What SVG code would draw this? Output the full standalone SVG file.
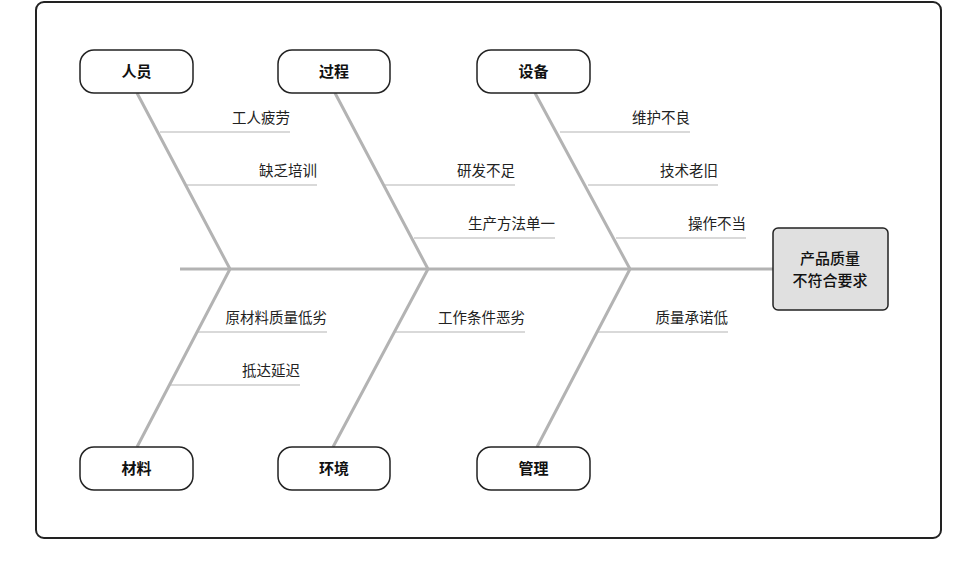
<svg xmlns="http://www.w3.org/2000/svg" width="970" height="566" viewBox="0 0 970 566">
<style>
.cat{fill:#fff;stroke:#222;stroke-width:1.5}
.ct{font-family:"Noto Sans CJK SC",sans-serif;font-size:15px;font-weight:bold;fill:#111;text-anchor:middle}
.ht{font-family:"Noto Sans CJK SC",sans-serif;font-size:15px;font-weight:500;fill:#111;text-anchor:middle}
.bone{stroke:#b3b3b3;stroke-width:3;fill:none}
.sub{stroke:#b3b3b3;stroke-width:1;fill:none}
.st{font-family:"Noto Sans CJK SC",sans-serif;font-size:14.5px;fill:#222;text-anchor:end}
</style>
<rect x="36" y="2" width="905" height="536" rx="8" fill="#fff" stroke="#222" stroke-width="2"/>
<g id="connectors">
<line class="bone" x1="180" y1="269" x2="773" y2="269"/>
<polyline class="bone" points="137,93 230,269 137,447"/>
<polyline class="bone" points="335,93 428,269 333,447"/>
<polyline class="bone" points="535,93 630,269 537,447"/>
<line class="sub" x1="160" y1="132" x2="290" y2="132"/>
<line class="sub" x1="187" y1="185" x2="317" y2="185"/>
<line class="sub" x1="385" y1="185" x2="515" y2="185"/>
<line class="sub" x1="414" y1="238" x2="555" y2="238"/>
<line class="sub" x1="560" y1="132" x2="690" y2="132"/>
<line class="sub" x1="588" y1="185" x2="718" y2="185"/>
<line class="sub" x1="616" y1="238" x2="746" y2="238"/>
<line class="sub" x1="197" y1="332" x2="327" y2="332"/>
<line class="sub" x1="170" y1="385" x2="300" y2="385"/>
<line class="sub" x1="395" y1="332" x2="525" y2="332"/>
<line class="sub" x1="597" y1="332" x2="728" y2="332"/>
</g>
<g id="labels">
<text class="st" x="290" y="123">工人疲劳</text>
<text class="st" x="317" y="176">缺乏培训</text>
<text class="st" x="515" y="176">研发不足</text>
<text class="st" x="555" y="229">生产方法单一</text>
<text class="st" x="690" y="123">维护不良</text>
<text class="st" x="718" y="176">技术老旧</text>
<text class="st" x="746" y="229">操作不当</text>
<text class="st" x="327" y="323">原材料质量低劣</text>
<text class="st" x="300" y="376">抵达延迟</text>
<text class="st" x="525" y="323">工作条件恶劣</text>
<text class="st" x="728" y="323">质量承诺低</text>
</g>
<g id="head"><rect x="773" y="228" width="115" height="82" rx="5" fill="#e0e0e0" stroke="#222" stroke-width="1.5"/>
<text class="ht" x="830" y="264">产品质量</text>
<text class="ht" x="830" y="286">不符合要求</text></g>
<g id="n1"><rect class="cat" x="80" y="50" width="113" height="43" rx="14"/><text class="ct" x="136.5" y="77">人员</text></g>
<g id="n2"><rect class="cat" x="278" y="50" width="112" height="43" rx="14"/><text class="ct" x="334" y="77">过程</text></g>
<g id="n3"><rect class="cat" x="477" y="50" width="113" height="43" rx="14"/><text class="ct" x="533.5" y="77">设备</text></g>
<g id="n4"><rect class="cat" x="80" y="447" width="113" height="43" rx="14"/><text class="ct" x="136.5" y="474">材料</text></g>
<g id="n5"><rect class="cat" x="278" y="447" width="112" height="43" rx="14"/><text class="ct" x="334" y="474">环境</text></g>
<g id="n6"><rect class="cat" x="477" y="447" width="113" height="43" rx="14"/><text class="ct" x="533.5" y="474">管理</text></g>
</svg>
